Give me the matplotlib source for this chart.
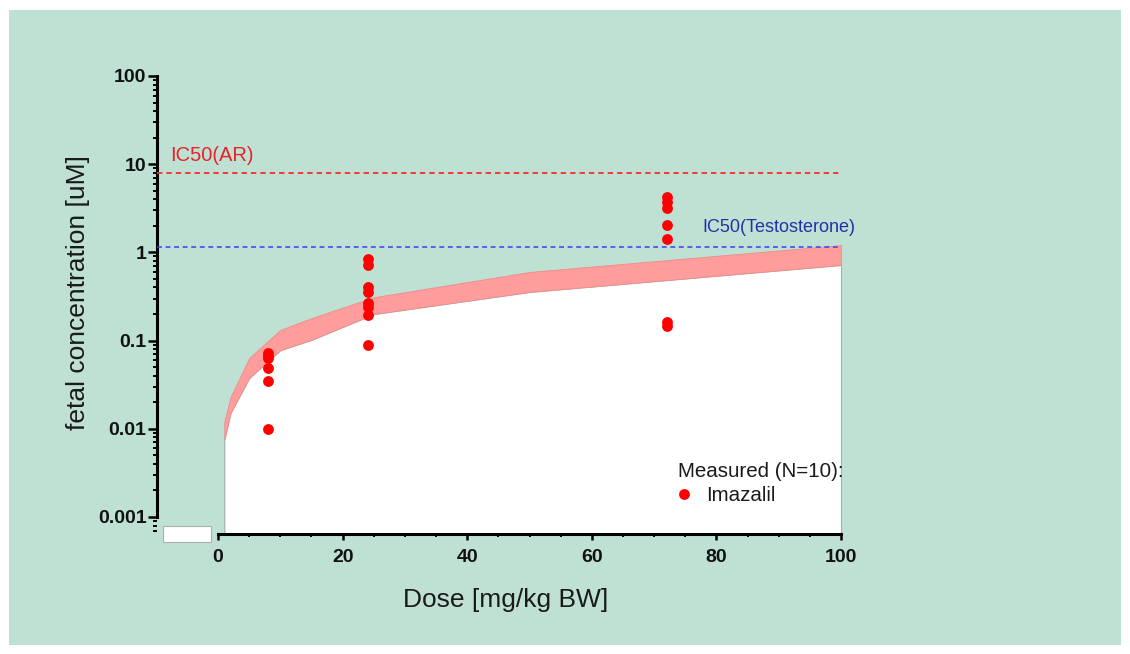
import matplotlib
matplotlib.use("Agg")
import matplotlib.pyplot as plt
from matplotlib.patches import Rectangle
from matplotlib.ticker import LogLocator, FixedLocator, MultipleLocator, FuncFormatter

plt.rcParams['font.family'] = ['Liberation Sans', 'DejaVu Sans']

# Predicted fetal concentration band (PBPK simulation)
band_dose = [1, 2, 5, 10, 15, 25, 50, 100]
band_upper = [0.0119, 0.0229, 0.0635, 0.132, 0.18, 0.31, 0.60, 1.21]
band_lower = [0.0075, 0.0151, 0.0377, 0.078, 0.102, 0.20, 0.356, 0.72]

# Measured fetal concentrations (Imazalil)
dose_8 = [0.072, 0.067, 0.063, 0.049, 0.035, 0.010]
dose_24 = [0.85, 0.72, 0.41, 0.36, 0.27, 0.24, 0.195, 0.089]
dose_72 = [4.25, 3.75, 3.2, 2.05, 1.42, 0.163, 0.145]
measured_doses = [8, 24, 72]
measured_conc = [dose_8, dose_24, dose_72]

# Reference inhibitory concentrations
ic50_ar = 8.0
ic50_testosterone = 1.16

y_ticks = [0.001, 0.01, 0.1, 1, 10, 100]
y_tick_labels = ["0.001", "0.01", "0.1", "1", "10", "100"]
x_ticks = [0, 20, 40, 60, 80, 100]

W, H = 1130, 654
fig = plt.figure(figsize=(W / 100, H / 100), dpi=100, facecolor='white')

# Mint panel behind the chart
fig.patches.append(Rectangle((9 / W, (H - 645) / H), (1121 - 9) / W, (645 - 10) / H,
                             transform=fig.transFigure, facecolor='#bfe1d3',
                             edgecolor='none', zorder=-5))

ax = fig.add_axes([157 / W, (H - 534) / H, (841 - 157) / W, (534 - 76) / H])
ax.set_facecolor('none')
ax.set_yscale('log')
ax.set_xlim(-9.8, 100)
ax.set_ylim(6.41e-4, 100)

# White area below the predicted band
ax.fill_between(band_dose, 1e-6, band_lower, facecolor='white',
                edgecolor='#9fb0a8', linewidth=0.8, zorder=1)
# Predicted band
ax.fill_between(band_dose, band_lower, band_upper, facecolor='#ff9d9d',
                edgecolor='#ee8c8c', linewidth=0.6, zorder=2)

# IC50 reference lines
ax.axhline(ic50_ar, color='#ff2a2a', lw=1.3, dashes=(3.0, 2.2), zorder=3)
ax.axhline(ic50_testosterone, color='#3c3cff', lw=1.1, dashes=(3.2, 2.4), zorder=3)
ax.text(-7.7, 10.9, "IC50(AR)", color='#e8222a', fontsize=14.5, ha='left', va='baseline')
ax.text(77.8, 1.70, "IC50(Testosterone)", color='#2430a8', fontsize=13, ha='left', va='baseline')

# Measured data points
for d, vals in zip(measured_doses, measured_conc):
    ax.plot([d] * len(vals), vals, 'o', color='#ff0000', markersize=7.8,
            markeredgewidth=0, zorder=5, label='Imazalil' if d == measured_doses[0] else None)

leg = ax.legend(title="Measured (N=10):", loc='upper left', bbox_to_anchor=(0.762, 0.158),
                frameon=False, fontsize=14.8, title_fontsize=14.8, alignment='left',
                borderaxespad=0, borderpad=0, handlelength=0.6, handletextpad=0.75,
                labelspacing=0.26, markerscale=1.0)
leg.get_title().set_color('#1a1a1a')
for t in leg.get_texts():
    t.set_color('#1a1a1a')

# Spines
for s in ['top', 'right']:
    ax.spines[s].set_visible(False)
ax.spines['left'].set_linewidth(2.2)
ax.spines['bottom'].set_linewidth(2.2)
ax.spines['left'].set_bounds(0.001, 100)
ax.spines['bottom'].set_bounds(0, 100)

# Ticks
ax.yaxis.set_major_locator(FixedLocator(y_ticks))
ax.yaxis.set_major_formatter(FuncFormatter(lambda v, p: y_tick_labels[y_ticks.index(v)] if v in y_ticks else ""))
ax.yaxis.set_minor_locator(LogLocator(base=10, subs=range(2, 10), numticks=20))
ax.xaxis.set_major_locator(FixedLocator(x_ticks))
ax.xaxis.set_minor_locator(MultipleLocator(5))
ax.tick_params(axis='y', which='major', length=6.5, width=1.8, pad=1, labelsize=14,
               direction='out', colors='black')
ax.tick_params(axis='y', which='minor', length=3, width=1.4, direction='out')
ax.tick_params(axis='x', which='major', length=4.5, width=1.8, pad=6, labelsize=14,
               direction='out')
ax.tick_params(axis='x', which='minor', length=2.5, width=1.4, direction='out')
for lbl in ax.get_xticklabels() + ax.get_yticklabels():
    lbl.set_fontweight('bold')
    lbl.set_color('#111111')

ax.set_xlabel("Dose [mg/kg BW]", fontsize=19, color='#1a1a1a')
ax.set_ylabel("fetal concentration [uM]", fontsize=19, color='#1a1a1a')
ax.xaxis.set_label_coords(0.510, -0.118)
ax.yaxis.set_label_coords(-0.098, 0.528)

# Small white box left of the origin
fig.patches.append(Rectangle((163 / W, (H - 542) / H), 48 / W, 16 / H,
                             transform=fig.transFigure, facecolor='white',
                             edgecolor='#a8b0ac', linewidth=0.8, zorder=5))

fig.savefig("out.png", dpi=100, facecolor=fig.get_facecolor())
